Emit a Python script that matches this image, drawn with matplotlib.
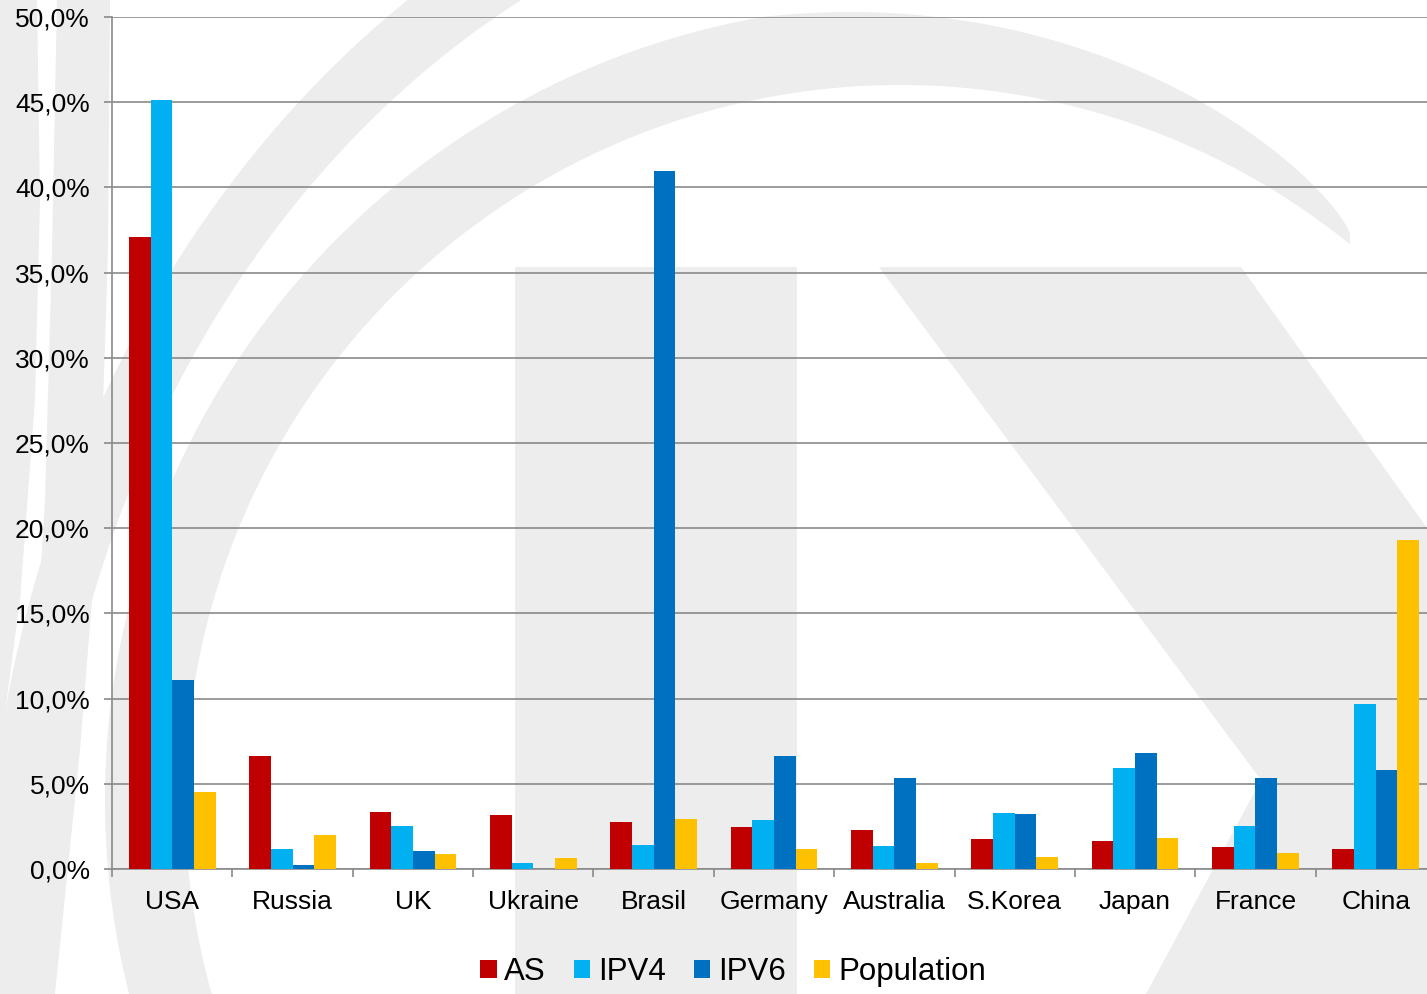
import numpy as np
import matplotlib
matplotlib.use("Agg")
import matplotlib.pyplot as plt
from matplotlib.patches import Polygon, Rectangle
from matplotlib.ticker import FuncFormatter

plt.rcParams['font.family'] = ['Liberation Sans', 'DejaVu Sans']

# data (percent shares per country)
countries = ['USA', 'Russia', 'UK', 'Ukraine', 'Brasil', 'Germany',
             'Australia', 'S.Korea', 'Japan', 'France', 'China']
as_share = [37.1, 6.63, 3.35, 3.17, 2.74, 2.45, 2.29, 1.76, 1.64, 1.29, 1.17]
ipv4_share = [45.1, 1.17, 2.5, 0.33, 1.41, 2.9, 1.37, 3.29, 5.91, 2.5, 9.66]
ipv6_share = [11.1, 0.22, 1.08, 0.0, 40.96, 6.63, 5.32, 3.25, 6.81, 5.34, 5.83]
pop_share = [4.52, 2.02, 0.88, 0.66, 2.93, 1.19, 0.33, 0.7, 1.82, 0.94, 19.29]

series = [('AS', as_share, '#C00000'),
          ('IPV4', ipv4_share, '#00B0F0'),
          ('IPV6', ipv6_share, '#0070C0'),
          ('Population', pop_share, '#FFC000')]

W, H = 1427, 994
GRID = '#8a8a8a'
WM = '#ededed'

fig = plt.figure(figsize=(W / 100, H / 100), dpi=100)

# background watermark, drawn in pixel coordinates
bg = fig.add_axes([0, 0, 1, 1], zorder=0)
bg.set_xlim(0, W)
bg.set_ylim(H, 0)
bg.axis('off')


def ellipse_band(cx, cy, a_in, b_in, a_out, b_out, t0, t1):
    t = np.radians(np.linspace(t0, t1, 200))
    inner = np.column_stack([cx + a_in * np.cos(t), cy - b_in * np.sin(t)])
    outer = np.column_stack([cx + a_out * np.cos(t), cy - b_out * np.sin(t)])
    return np.vstack([inner, outer[::-1]])


# crescent arc
t = np.linspace(51, 205, 300)
r_in = np.full_like(t, 715.0)
r_out = 715 + 80 * np.clip((t - 51) / 49, 0, 1) ** 0.5
tr = np.radians(t)
inner = np.column_stack([900 + r_in * np.cos(tr), 800 - r_in * np.sin(tr)])
outer = np.column_stack([900 + r_out * np.cos(tr), 800 - r_out * np.sin(tr)])
bg.add_patch(Polygon(np.vstack([inner, outer[::-1]]), color=WM, lw=0))

# outer arc
bg.add_patch(Polygon(ellipse_band(950, 950, 907, 1078, 966, 1148, 85, 190),
                     color=WM, lw=0))

# left strips
bg.add_patch(Polygon([(0, 0), (37, 0), (40, 200), (35, 400), (20, 600), (0, 750)],
                     color=WM, lw=0))
bg.add_patch(Polygon([(57, 0), (110, 0), (108, 250), (100, 500), (80, 750),
                      (55, 994), (10, 994), (30, 750), (45, 500), (52, 250)],
                     color=WM, lw=0))

# vertical bar and diagonal of the logo
bg.add_patch(Rectangle((515, 267), 282, H - 267, color=WM, lw=0))
bg.add_patch(Polygon([(879, 267), (1241, 267), (1427, 528), (1427, 994),
                      (1146, 994), (1261, 780)], color=WM, lw=0))

# main chart
ax = fig.add_axes([112 / W, (H - 869) / H, 1324 / W, 852 / H], zorder=1)
ax.patch.set_alpha(0)

x = np.arange(len(countries))
width = 0.18
for i, (name, vals, col) in enumerate(series):
    ax.bar(x + (i - 1.5) * width, vals, width, color=col, label=name,
           lw=0, zorder=3)

ax.set_xlim(-0.5, len(countries) - 0.5)
ax.set_ylim(0, 50)
ax.set_yticks(np.arange(0, 51, 5))
ax.yaxis.set_major_formatter(FuncFormatter(lambda v, p: f"{v:.1f}".replace('.', ',') + '%'))
ax.yaxis.grid(True, color=GRID, lw=1.2)
ax.set_axisbelow(True)

ax.set_xticks(np.arange(-0.5, len(countries), 1))
ax.set_xticks(x, labels=countries, minor=True)
ax.tick_params(axis='x', which='major', length=6, width=1.2, color=GRID,
               labelbottom=False)
ax.tick_params(axis='x', which='minor', length=0, pad=15, labelsize=19)
ax.tick_params(axis='y', length=6, width=1.2, color=GRID, pad=10, labelsize=19)

for side in ['top', 'right']:
    ax.spines[side].set_visible(False)
for side in ['left', 'bottom']:
    ax.spines[side].set_color(GRID)
    ax.spines[side].set_linewidth(1.2)

handles, labels = ax.get_legend_handles_labels()
fig.legend(handles, labels, loc='center', bbox_to_anchor=(733 / W, 1 - 972 / H),
           ncol=4, frameon=False, fontsize=22.5, handlelength=0.52,
           handleheight=0.52, handletextpad=0.25, columnspacing=0.9,
           borderaxespad=0)

fig.savefig('out.png', dpi=100)
